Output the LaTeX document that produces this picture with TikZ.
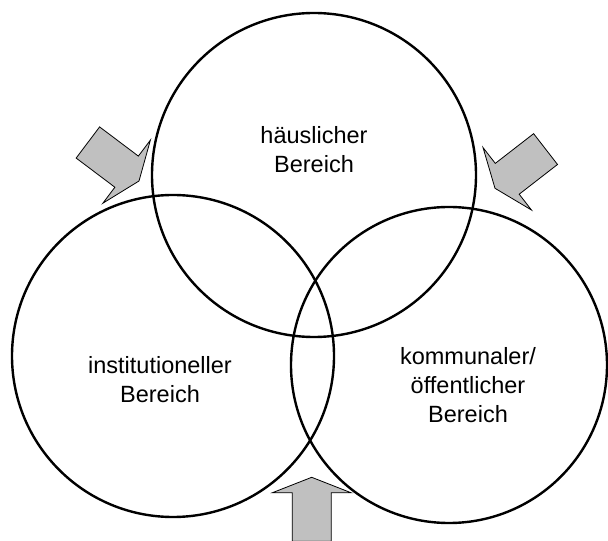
\documentclass[tikz,border=0pt]{standalone}
\usepackage{fontspec}
\setmainfont{Liberation Sans}
\definecolor{ArrowGray}{RGB}{192, 192, 192}
\usetikzlibrary{positioning}

% block arrow: tip position, rotation
\newcommand{\blockarrow}[2]{%
  \filldraw[ArrowGray, draw=black, line width=0.8pt, shift={(#1)}, rotate=#2]
    (0,0) -- (39.5,-15.5) -- (19.5,-15.5) -- (19.5,-64)
    -- (-19.5,-64) -- (-19.5,-15.5) -- (-39.5,-15.5) -- cycle;}

\begin{document}
\begin{tikzpicture}[
    x=1pt, y=1pt,
    sphere/.style={circle, draw, line width=2.4pt, inner sep=0pt},
    every node/.style={font=\fontsize{23.5}{29}\selectfont, align=center}
]
\useasboundingbox (0,0) rectangle (608,541);
% Arrows
\blockarrow{139,360}{-127}
\blockarrow{495,352.7}{127.8}
\blockarrow{311.7,63.7}{0}
% Spheres
\node[sphere, minimum size=324pt] (home) at (314,366) {};
\node[sphere, minimum size=322pt] (inst) at (173,185) {};
\node[sphere, minimum size=316pt] (publ) at (449,176) {};
% Labels
\node (homelabel) at (314,391) {häuslicher\\Bereich};
\node (instlabel) at (160,161) {institutioneller\\Bereich};
\node (publlabel) at (468,156) {kommunaler/\\öffentlicher\\Bereich};
\end{tikzpicture}
\end{document}
